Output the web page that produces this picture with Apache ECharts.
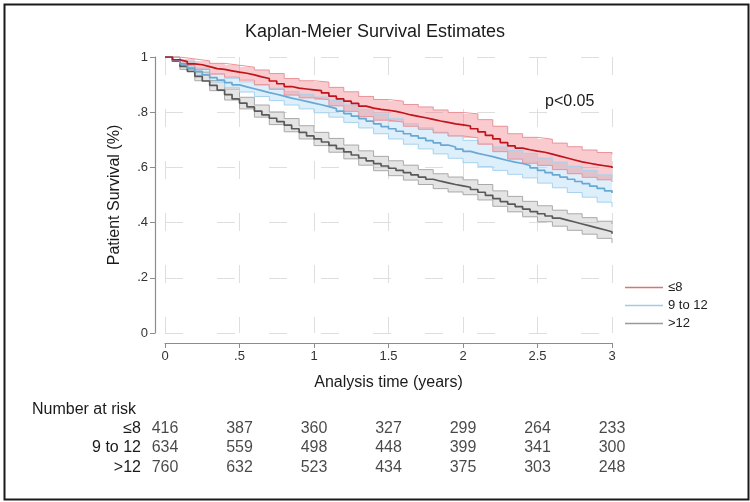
<!DOCTYPE html>
<html>
<head>
<meta charset="utf-8">
<script src="https://cdn.jsdelivr.net/npm/echarts@6/dist/echarts.min.js"></script>
<style>html,body{margin:0;padding:0;background:#fff}#c{width:750px;height:502px}</style>
</head>
<body>
<div id="c"></div>
<script>
// ---- data ----
var groups = ['≤8', '9 to 12', '>12'];
var lineTimes = [0,0.05,0.1,0.15,0.2,0.25,0.3,0.35,0.4,0.45,0.5,0.55,0.6,0.65,0.7,0.75,0.8,0.85,0.9,0.95,1,1.05,1.1,1.15,1.2,1.25,1.3,1.35,1.4,1.45,1.5,1.55,1.6,1.65,1.7,1.75,1.8,1.85,1.9,1.95,2,2.05,2.1,2.15,2.2,2.25,2.3,2.35,2.4,2.45,2.5,2.55,2.6,2.65,2.7,2.75,2.8,2.85,2.9,2.95,3];
var survLE8 = [1,0.990,0.983,0.975,0.972,0.965,0.958,0.955,0.950,0.945,0.941,0.935,0.928,0.922,0.913,0.903,0.893,0.887,0.884,0.881,0.878,0.870,0.858,0.848,0.840,0.832,0.822,0.815,0.810,0.807,0.803,0.797,0.790,0.785,0.780,0.774,0.768,0.763,0.758,0.754,0.750,0.740,0.729,0.716,0.703,0.690,0.678,0.670,0.664,0.659,0.655,0.648,0.641,0.634,0.627,0.620,0.615,0.610,0.606,0.602,0.598];
var surv9to12 = [1,0.988,0.975,0.960,0.948,0.935,0.925,0.916,0.907,0.899,0.892,0.885,0.878,0.871,0.865,0.858,0.851,0.845,0.839,0.833,0.827,0.820,0.813,0.804,0.795,0.786,0.777,0.768,0.758,0.748,0.740,0.731,0.722,0.714,0.706,0.697,0.689,0.681,0.674,0.666,0.658,0.651,0.645,0.639,0.632,0.625,0.619,0.614,0.607,0.598,0.589,0.581,0.573,0.565,0.557,0.549,0.541,0.532,0.524,0.515,0.507];
var survGT12 = [1,0.985,0.966,0.948,0.930,0.913,0.897,0.880,0.864,0.848,0.833,0.819,0.804,0.790,0.778,0.766,0.753,0.740,0.727,0.714,0.703,0.692,0.680,0.668,0.656,0.645,0.634,0.624,0.614,0.605,0.597,0.589,0.581,0.573,0.565,0.557,0.550,0.544,0.538,0.533,0.528,0.520,0.510,0.499,0.487,0.476,0.467,0.458,0.449,0.440,0.432,0.424,0.416,0.409,0.402,0.395,0.388,0.381,0.374,0.367,0.360];

var bandTimes = [0,0.1,0.2,0.3,0.4,0.5,0.6,0.7,0.8,0.9,1,1.1,1.2,1.3,1.4,1.5,1.6,1.7,1.8,1.9,2,2.1,2.2,2.3,2.4,2.5,2.6,2.7,2.8,2.9,3];
var loLE8 = [1,0.970,0.955,0.938,0.927,0.916,0.900,0.883,0.862,0.852,0.845,0.823,0.803,0.784,0.771,0.764,0.749,0.738,0.725,0.714,0.707,0.684,0.657,0.630,0.615,0.607,0.592,0.577,0.564,0.555,0.547];
var hiLE8 = [1,0.993,0.986,0.977,0.970,0.963,0.953,0.940,0.922,0.914,0.909,0.890,0.874,0.857,0.846,0.840,0.828,0.819,0.808,0.799,0.794,0.773,0.749,0.722,0.709,0.702,0.688,0.675,0.663,0.654,0.647];
var lo9to12 = [1,0.964,0.934,0.909,0.890,0.873,0.857,0.842,0.826,0.812,0.798,0.782,0.763,0.743,0.722,0.703,0.684,0.667,0.649,0.633,0.617,0.603,0.589,0.575,0.562,0.543,0.526,0.509,0.492,0.474,0.456];
var hi9to12 = [1,0.985,0.961,0.940,0.923,0.910,0.898,0.887,0.875,0.865,0.855,0.843,0.826,0.810,0.793,0.776,0.759,0.744,0.728,0.714,0.698,0.686,0.674,0.662,0.651,0.634,0.619,0.604,0.589,0.573,0.557];
var loGT12 = [1,0.955,0.914,0.878,0.844,0.812,0.782,0.755,0.729,0.703,0.679,0.655,0.631,0.608,0.588,0.570,0.554,0.538,0.523,0.511,0.501,0.482,0.459,0.439,0.421,0.403,0.387,0.372,0.358,0.343,0.326];
var hiGT12 = [1,0.977,0.945,0.915,0.884,0.854,0.826,0.801,0.777,0.751,0.727,0.705,0.681,0.660,0.640,0.624,0.608,0.592,0.577,0.565,0.555,0.538,0.515,0.495,0.477,0.461,0.445,0.432,0.418,0.405,0.395];

var xTickValues = [0,0.5,1,1.5,2,2.5,3];
var xTickLabels = ['0','.5','1','1.5','2','2.5','3'];
var yTickValues = [0,0.2,0.4,0.6,0.8,1];
var yTickLabels = ['0','.2','.4','.6','.8','1'];

var riskTimes = [0,0.5,1,1.5,2,2.5,3];
var riskLE8 = [416,387,360,327,299,264,233];
var risk9to12 = [634,559,498,448,399,341,300];
var riskGT12 = [760,632,523,434,375,303,248];

// ---- build ----
var FONT = '"Liberation Sans", Arial, sans-serif';
function pairs(ts, vs){ return ts.map(function(t,i){ return [t, vs[i]]; }); }
function cells(ts, lo, hi){
  var out = [];
  for (var i = 0; i < ts.length - 1; i++) out.push([ts[i], ts[i+1], lo[i], hi[i]]);
  return out;
}
function lbl(vals, labs){ return function(v){ for (var i=0;i<vals.length;i++){ if (Math.abs(vals[i]-v)<1e-6) return labs[i]; } return ''; }; }

var lineColors = ['#c0141c', '#6aa8d4', '#5a5a5a'];
var bandFill = ['rgba(238,110,118,0.36)', 'rgba(150,205,240,0.33)', 'rgba(165,165,165,0.30)'];
var bandEdge = ['#e8949a', '#a7d2ee', '#a9a9a9'];
var legendColors = ['#d9737a', '#9fcbe6', '#9a9a9a'];
var survs = [survLE8, surv9to12, survGT12];
var los = [loLE8, lo9to12, loGT12];
var his = [hiLE8, hi9to12, hiGT12];
var risks = [riskLE8, risk9to12, riskGT12];

function bandRender(fill){
  return function(params, api){
    var a = api.coord([api.value(0), api.value(3)]);
    var b = api.coord([api.value(1), api.value(2)]);
    var x0 = Math.round(a[0]), x1 = Math.round(b[0]);
    var y0 = Math.round(a[1]), y1 = Math.round(b[1]);
    return {type:'rect', shape:{x:x0, y:y0, width:x1-x0, height:y1-y0},
      style:{fill:fill}, silent:true};
  };
}

var series = [];
[2,1,0].forEach(function(g){
  series.push({
    type:'custom', name:'band_'+g, xAxisIndex:0, yAxisIndex:0, silent:true,
    renderItem: bandRender(bandFill[g]),
    encode:{x:[0,1], y:[2,3]},
    data: cells(bandTimes, los[g], his[g]), z:1
  });
});
[2,1,0].forEach(function(g){
  [los[g], his[g]].forEach(function(arr, k){
    series.push({
      type:'line', name:'edge_'+g+'_'+k, step:'end', symbol:'none',
      xAxisIndex:0, yAxisIndex:0, silent:true, z:2,
      lineStyle:{color:bandEdge[g], width:1},
      data: pairs(bandTimes, arr)
    });
  });
});
[2,1,0].forEach(function(g){
  series.push({
    type:'line', name:groups[g], step:'end', symbol:'none', z:3,
    xAxisIndex:0, yAxisIndex:0, color:lineColors[g],
    lineStyle:{color:lineColors[g], width:1.7},
    data: pairs(lineTimes, survs[g])
  });
});
groups.forEach(function(name, g){
  series.push({
    type:'scatter', name:'risk_'+g, xAxisIndex:1, yAxisIndex:1,
    symbolSize:1, itemStyle:{color:'rgba(0,0,0,0)'}, silent:true,
    label:{show:true, position:'inside', color:'#1a1a1a', fontSize:16, fontFamily:FONT,
      formatter:function(p){ return String(p.value[2]); }},
    data: riskTimes.map(function(t,i){ return [t, name, risks[g][i]]; })
  });
});

var option = {
  animation:false,
  backgroundColor:'#ffffff',
  title:{text:'Kaplan-Meier Survival Estimates', left:'center', top:18,
    textStyle:{fontFamily:FONT, fontSize:18, fontWeight:'normal', color:'#1a1a1a'}},
  legend:{
    orient:'vertical', left:620, top:276, icon:'rect', itemWidth:38, itemHeight:1.5, itemGap:5,
    textStyle:{fontFamily:FONT, fontSize:13, color:'#222'},
    data: groups.map(function(n,g){ return {name:n, itemStyle:{color:legendColors[g]}}; })
  },
  grid:[
    {left:165, top:57, width:447, height:276},
    {left:165, top:419, width:447, height:58}
  ],
  xAxis:[
    {type:'value', gridIndex:0, min:0, max:3, interval:0.5, offset:10,
      name:'Analysis time (years)', nameLocation:'middle', nameGap:32,
      nameTextStyle:{fontFamily:FONT, fontSize:16, color:'#1a1a1a'},
      axisLine:{show:true, onZero:false, lineStyle:{color:'#8c8c8c', width:1.2}},
      axisTick:{show:true, length:5, lineStyle:{color:'#8c8c8c'}},
      axisLabel:{fontFamily:FONT, fontSize:13, color:'#333', margin:7, formatter:lbl(xTickValues, xTickLabels)},
      splitLine:{show:true, lineStyle:{color:'#dedede', type:[18,34], width:1}}},
    {type:'value', gridIndex:1, min:0, max:3, show:false}
  ],
  yAxis:[
    {type:'value', gridIndex:0, min:0, max:1, interval:0.2, offset:10,
      name:'Patient Survival (%)', nameLocation:'middle', nameGap:32, nameRotate:90,
      nameTextStyle:{fontFamily:FONT, fontSize:16, color:'#1a1a1a'},
      axisLine:{show:true, onZero:false, lineStyle:{color:'#8c8c8c', width:1.2}},
      axisTick:{show:true, length:5, lineStyle:{color:'#8c8c8c'}},
      axisLabel:{fontFamily:FONT, fontSize:13, color:'#333', margin:7, formatter:lbl(yTickValues, yTickLabels)},
      splitLine:{show:true, lineStyle:{color:'#dedede', type:[18,34], width:1}}},
    {type:'category', gridIndex:1, data:groups, inverse:true,
      axisLine:{show:false}, axisTick:{show:false}, splitLine:{show:false},
      axisLabel:{fontFamily:FONT, fontSize:16, color:'#1a1a1a', margin:24, interval:0}}
  ],
  graphic:[
    {type:'rect', left:2, top:2, silent:true, z:100,
      shape:{width:744, height:495}, style:{fill:'none', stroke:'#1a1a1a', lineWidth:2}},
    {type:'text', left:545, top:94, silent:true, z:100,
      style:{text:'p<0.05', font:'16px ' + FONT, fill:'#1a1a1a'}},
    {type:'text', left:32, top:402, silent:true,
      style:{text:'Number at risk', font:'16px ' + FONT, fill:'#1a1a1a'}}
  ],
  series: series
};
var chart = echarts.init(document.getElementById('c'), null, {renderer:'canvas'});
chart.setOption(option);
</script>
</body>
</html>
